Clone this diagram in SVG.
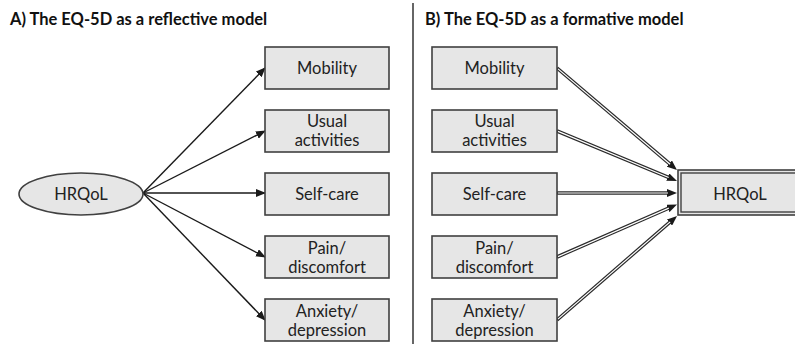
<svg xmlns="http://www.w3.org/2000/svg" width="795" height="344" viewBox="0 0 795 344">
  <style>
    .title { font-family: Lato, "Open Sans", "Liberation Sans", sans-serif; font-weight: bold; font-size: 16.5px; fill: #111; }
    .lbl { font-family: Lato, "Open Sans", "Liberation Sans", sans-serif; font-size: 16.5px; fill: #222; text-anchor: middle; }
    .box { fill: #e6e6e6; stroke: #404040; stroke-width: 1.6; }
    .thin { fill: none; stroke: #1a1a1a; stroke-width: 1.4; marker-end: url(#tip); }
    .dbl-out { fill: none; stroke: #2a2a2a; stroke-width: 3.6; marker-end: url(#tipWide); }
    .dbl-in { fill: none; stroke: #ffffff; stroke-width: 1.2; }
  </style>
  <defs>
    <marker id="tip" viewBox="0 0 10 8" refX="9" refY="4" markerWidth="10" markerHeight="8" markerUnits="userSpaceOnUse" orient="auto">
      <path d="M0,0 L10,4 L0,8 z" fill="#1a1a1a"/>
    </marker>
    <marker id="tipWide" viewBox="0 0 10 8" refX="4" refY="4" markerWidth="10" markerHeight="8" markerUnits="userSpaceOnUse" orient="auto">
      <path d="M0,0 L10,4 L0,8 z" fill="#1a1a1a"/>
    </marker>
  </defs>

  <rect width="795" height="344" fill="#ffffff"/>

  <!-- panel titles and divider -->
  <text class="title" x="10" y="25">A) The EQ-5D as a reflective model</text>
  <text class="title" x="425" y="25">B) The EQ-5D as a formative model</text>
  <line x1="413" y1="3" x2="413" y2="344" stroke="#666" stroke-width="2"/>

  <!-- reflective model: latent variable to indicators -->
  <g id="connectors-a">
    <line class="thin" x1="143" y1="193" x2="265" y2="68"/>
    <line class="thin" x1="143" y1="193" x2="265" y2="131"/>
    <line class="thin" x1="143" y1="193" x2="265" y2="193"/>
    <line class="thin" x1="143" y1="193" x2="265" y2="257"/>
    <line class="thin" x1="143" y1="193" x2="265" y2="320"/>
  </g>

  <g id="a-hrqol">
    <ellipse class="box" cx="81" cy="194" rx="62" ry="21"/>
    <text class="lbl" x="81" y="200">HRQoL</text>
  </g>
  <g id="a-mobility">
    <rect class="box" x="265" y="47" width="124" height="42"/>
    <text class="lbl" x="327" y="74">Mobility</text>
  </g>
  <g id="a-usual">
    <rect class="box" x="265" y="110" width="124" height="42"/>
    <text class="lbl" x="327" y="127">Usual</text>
    <text class="lbl" x="327" y="146">activities</text>
  </g>
  <g id="a-selfcare">
    <rect class="box" x="265" y="173" width="124" height="42"/>
    <text class="lbl" x="327" y="200">Self-care</text>
  </g>
  <g id="a-pain">
    <rect class="box" x="265" y="236" width="124" height="42"/>
    <text class="lbl" x="327" y="254">Pain/</text>
    <text class="lbl" x="327" y="273">discomfort</text>
  </g>
  <g id="a-anxiety">
    <rect class="box" x="265" y="299" width="124" height="42"/>
    <text class="lbl" x="327" y="317">Anxiety/</text>
    <text class="lbl" x="327" y="336">depression</text>
  </g>

  <!-- formative model: indicators to composite -->
  <g id="connectors-b">
    <line class="dbl-out" x1="557" y1="68" x2="672.4" y2="166.1"/>
    <line class="dbl-in" x1="558" y1="68.9" x2="670.1" y2="164.2"/>
    <line class="dbl-out" x1="557" y1="131" x2="671.5" y2="178.7"/>
    <line class="dbl-in" x1="558" y1="131.4" x2="668.7" y2="177.5"/>
    <line class="dbl-out" x1="557" y1="193" x2="671" y2="193"/>
    <line class="dbl-in" x1="558" y1="193" x2="668" y2="193"/>
    <line class="dbl-out" x1="557" y1="257" x2="671.5" y2="206.9"/>
    <line class="dbl-in" x1="558" y1="256.6" x2="668.8" y2="208.1"/>
    <line class="dbl-out" x1="557" y1="320" x2="672.5" y2="219.9"/>
    <line class="dbl-in" x1="558" y1="319.1" x2="670.2" y2="221.9"/>
  </g>

  <g id="b-mobility">
    <rect class="box" x="432" y="47" width="125" height="42"/>
    <text class="lbl" x="494.5" y="74">Mobility</text>
  </g>
  <g id="b-usual">
    <rect class="box" x="432" y="110" width="125" height="42"/>
    <text class="lbl" x="494.5" y="127">Usual</text>
    <text class="lbl" x="494.5" y="146">activities</text>
  </g>
  <g id="b-selfcare">
    <rect class="box" x="432" y="173" width="125" height="42"/>
    <text class="lbl" x="494.5" y="200">Self-care</text>
  </g>
  <g id="b-pain">
    <rect class="box" x="432" y="236" width="125" height="42"/>
    <text class="lbl" x="494.5" y="254">Pain/</text>
    <text class="lbl" x="494.5" y="273">discomfort</text>
  </g>
  <g id="b-anxiety">
    <rect class="box" x="432" y="299" width="125" height="42"/>
    <text class="lbl" x="494.5" y="317">Anxiety/</text>
    <text class="lbl" x="494.5" y="336">depression</text>
  </g>
  <g id="b-hrqol">
    <rect x="678" y="170" width="130" height="45" fill="#e6e6e6" stroke="#404040" stroke-width="1.6"/>
    <rect x="681" y="173" width="124" height="39" fill="none" stroke="#404040" stroke-width="1.4"/>
    <text class="lbl" x="740" y="200">HRQoL</text>
  </g>
</svg>
